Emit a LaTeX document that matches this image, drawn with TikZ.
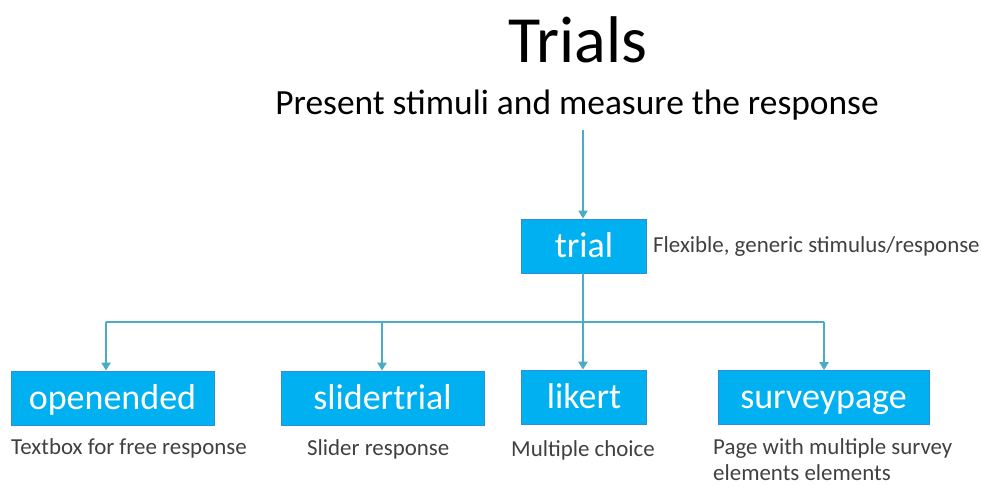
\documentclass[tikz,border=0pt]{standalone}
\usepackage{fontspec}
\setmainfont{Carlito}
\usetikzlibrary{arrows.meta}
\definecolor{boxblue}{HTML}{00B0F0}
\definecolor{boxedge}{HTML}{2E8FD6}
\definecolor{conn}{HTML}{4BACC6}
\definecolor{lbl}{HTML}{404040}
\tikzset{
  classbox/.style={draw=boxedge, line width=0.8pt, fill=boxblue, text=white, inner sep=0pt,
    minimum height=54pt, text height=26pt, text depth=4pt, font=\fontsize{36}{40}\selectfont},
  desc/.style={text=lbl, inner sep=0pt, font=\fontsize{22.9}{26}\selectfont, anchor=base west, align=left},
  link/.style={draw=conn, line width=2.6pt},
  arrowlink/.style={link, -{Triangle[width=9pt,length=8pt]}},
}
\begin{document}
\begin{tikzpicture}[x=1pt,y=-1pt]
\useasboundingbox (0,0) rectangle (981,485);
\node[anchor=base, inner sep=0pt, font=\fontsize{66}{70}\selectfont] (title) at (578,62) {Trials};
\node[anchor=base, inner sep=0pt, font=\fontsize{35.4}{40}\selectfont] (sub) at (577,114) {Present stimuli and measure the response};
\node[classbox, minimum width=125pt] (trial) at (584,246) {trial};
\node[classbox, minimum width=203pt] (open) at (112.5,398) {openended};
\node[classbox, minimum width=203pt] (slider) at (382.5,398) {slidertrial};
\node[classbox, minimum width=125pt] (likert) at (584,397) {likert};
\node[classbox, minimum width=211pt] (survey) at (823.5,397.5) {surveypage};
\node[desc] (dtrial) at (653,252) {Flexible, generic stimulus/response};
\node[desc] (dopen) at (11,454) {Textbox for free response};
\node[desc] (dslider) at (307,455) {Slider response};
\node[desc] (dlikert) at (511,456) {Multiple choice};
\node[desc] (dsurvey) at (713,454) {Page with multiple survey};
\node[desc] (dsurvey2) at (713,480) {elements elements};
\coordinate (top) at (583,130);
\coordinate (j) at (583,322);
\coordinate (b1) at (106,322);
\coordinate (b2) at (382,322);
\coordinate (b4) at (824,322);
\draw[arrowlink] (top) -- (trial.north -| top);
\draw[link] (trial.south -| j) -- (j);
\draw[link] (b1) -- (b4);
\draw[arrowlink] (b1) -- (b1 |- open.north);
\draw[arrowlink] (b2) -- (b2 |- slider.north);
\draw[arrowlink] (j) -- (j |- likert.north);
\draw[arrowlink] (b4) -- (b4 |- survey.north);
\end{tikzpicture}
\end{document}
